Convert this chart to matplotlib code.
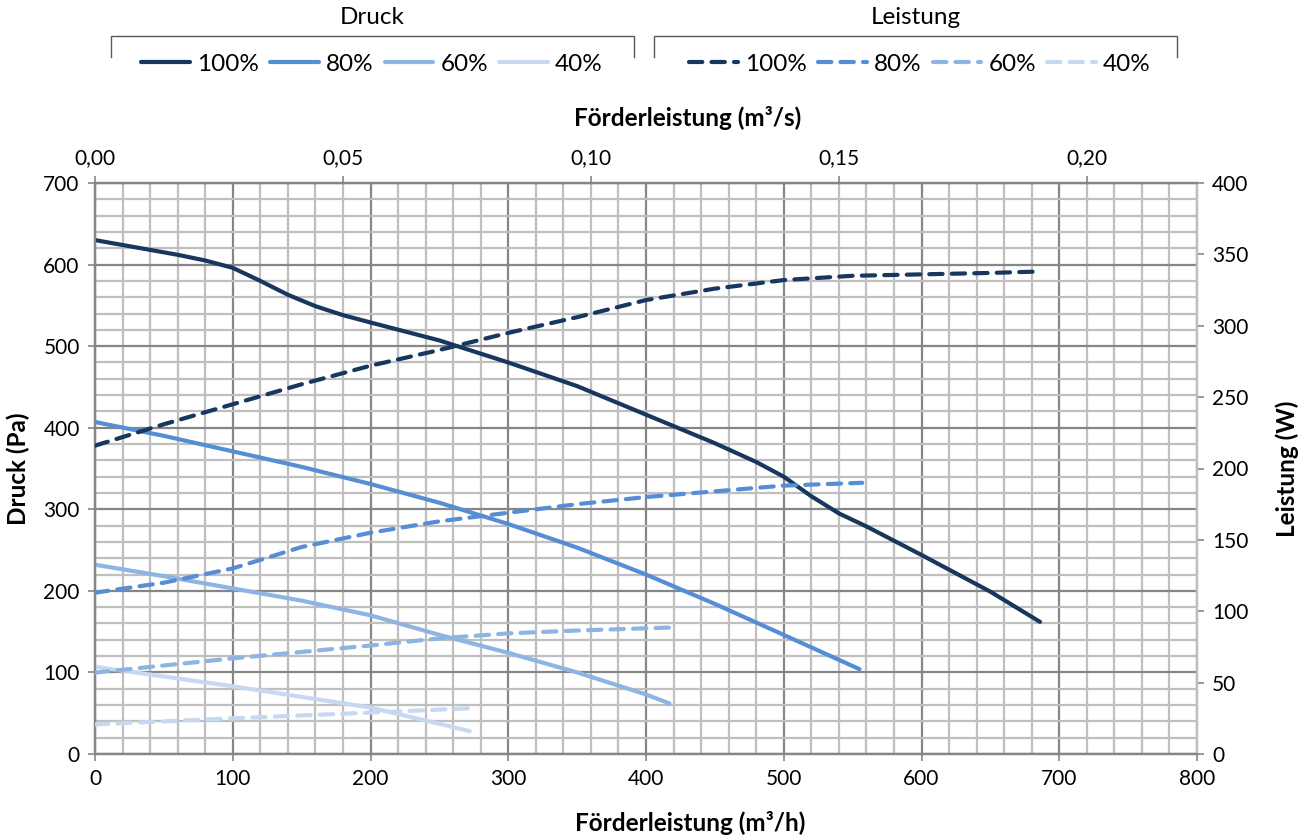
import matplotlib
matplotlib.use("Agg")
import matplotlib.pyplot as plt
from matplotlib.lines import Line2D
from matplotlib.ticker import MultipleLocator, FuncFormatter

plt.rcParams['font.family'] = ['Lato', 'DejaVu Sans']

# ---- data (x in m³/h) ----
levels = ["100%", "80%", "60%", "40%"]
colors = ["#17375E", "#558ED5", "#8EB4E3", "#C6D9F1"]

p100_x = [0, 20, 40, 60, 80, 100, 120, 140, 160, 180, 200, 250, 300, 350, 400, 450, 480, 500, 520, 540, 560, 600, 650, 686]
p100_y = [630, 624, 618, 612, 605, 596, 580, 563, 549, 538, 529, 507, 480, 451, 416, 381, 358, 340, 316, 295, 279, 244, 199, 162]
p80_x = [0, 50, 100, 150, 200, 250, 300, 350, 400, 450, 500, 555]
p80_y = [407, 390, 371, 352, 331, 308, 282, 253, 220, 184, 146, 104]
p60_x = [0, 50, 100, 150, 200, 250, 300, 350, 400, 417]
p60_y = [232, 218, 203, 188, 170, 146, 124, 100, 73, 62]
p40_x = [0, 50, 100, 150, 200, 250, 272]
p40_y = [107, 95, 83, 70, 57, 37, 28]

w100_x = [0, 50, 100, 150, 200, 250, 300, 350, 400, 450, 500, 550, 600, 650, 686]
w100_y = [216, 231, 245, 259, 272, 283, 295, 306, 318, 326, 332, 335, 336, 337, 338]
w80_x = [0, 50, 100, 150, 200, 250, 300, 350, 400, 450, 500, 557]
w80_y = [113, 120, 130, 145, 155, 163, 169, 175, 180, 184, 188, 190]
w60_x = [0, 100, 200, 250, 300, 350, 417]
w60_y = [57, 67, 76, 81, 84.5, 86.5, 88.6]
w40_x = [0, 100, 200, 272]
w40_y = [20.7, 25, 29, 32]

druck = [(p100_x, p100_y), (p80_x, p80_y), (p60_x, p60_y), (p40_x, p40_y)]
leistung = [(w100_x, w100_y), (w80_x, w80_y), (w60_x, w60_y), (w40_x, w40_y)]

dark = "#868686"
light = "#BFBFBF"
fs = 15
lfs = 17.5

fig = plt.figure(figsize=(13.04, 8.39), dpi=100)
ax = fig.add_axes([95/1304, 1-754/839, (1197-95)/1304, (754-183)/839])
ax2 = ax.twinx()

ax.set_xlim(0, 800)
ax.set_ylim(0, 700)
ax2.set_ylim(0, 400)

# grid
ax.xaxis.set_major_locator(MultipleLocator(100))
ax.xaxis.set_minor_locator(MultipleLocator(20))
ax.yaxis.set_major_locator(MultipleLocator(100))
ax.yaxis.set_minor_locator(MultipleLocator(20))
ax.grid(which='minor', color=light, lw=1.6, zorder=0)
ax.grid(which='major', color=dark, lw=1.6, zorder=0.1)
ax.set_axisbelow(True)

ax.tick_params(which='minor', length=0)
ax.tick_params(which='major', length=5, width=1.2, color=dark, labelsize=fs, pad=6)
ax2.yaxis.set_major_locator(MultipleLocator(50))
ax2.tick_params(which='major', length=5, width=1.2, color=dark, labelsize=fs, pad=6)

for a in (ax, ax2):
    for s in ('left', 'bottom', 'top'):
        a.spines[s].set_color(dark)
        a.spines[s].set_linewidth(1.6)
    a.spines['right'].set_color(light)
    a.spines['right'].set_linewidth(1.6)

lw = 3.0
hd, hl = [], []
for (x, y), c, lab in zip(druck, colors, levels):
    ln, = ax.plot(x, y, color=c, lw=lw, solid_capstyle='round', solid_joinstyle='round', zorder=3)
    hd.append(ln); hl.append(lab)
hw = []
for (x, y), c, lab in zip(leistung, colors, levels):
    ln, = ax2.plot(x, y, color=c, lw=lw, dashes=(3.2, 2.2), dash_capstyle='round', zorder=3)
    hw.append(ln)

# top axis in m³/s
sec = ax.secondary_xaxis('top', functions=(lambda v: v/3600.0, lambda v: v*3600.0))
sec.set_xticks([0.0, 0.05, 0.10, 0.15, 0.20])
sec.xaxis.set_major_formatter(FuncFormatter(lambda v, p: f"{v:.2f}".replace('.', ',')))
sec.tick_params(length=5, width=1.2, color=dark, labelsize=fs, pad=6)
sec.spines['top'].set_visible(False)

ax.set_xlabel("Förderleistung (m³/h)", fontsize=lfs, fontweight='bold')
ax.set_ylabel("Druck (Pa)", fontsize=lfs, fontweight='bold')
ax2.set_ylabel("Leistung (W)", fontsize=lfs, fontweight='bold', rotation=90)
fig.text(688/1304, 1-118/839, "Förderleistung (m³/s)", fontsize=lfs, fontweight='bold',
         ha='center', va='center')

ax.xaxis.set_label_coords(0.54, (754-823)/571)
ax.xaxis.label.set_va('center')
ax.yaxis.set_label_coords((18-95)/1102, 0.5)
ax.yaxis.label.set_va('center')
ax2.yaxis.set_label_coords((1287-95)/1102, 0.5)
ax2.yaxis.label.set_va('center')

# legends
for hs, cx in ((hd, 372), (hw, 920)):
    fig.legend(hs, hl, loc='center', bbox_to_anchor=(cx/1304, 1-64/839), ncol=4,
               frameon=False, fontsize=17.5, handlelength=2.0, handletextpad=0.3,
               columnspacing=0.45)

def bracket(x0, x1, title):
    yb = 1-36/839
    yt = 1-57/839
    fig.add_artist(Line2D([x0/1304, x0/1304, x1/1304, x1/1304], [yt, yb, yb, yt],
                          transform=fig.transFigure, color="#595959", lw=1.0))
    fig.text((x0+x1)/2/1304, 1-17/839, title, ha='center', va='center', fontsize=17.5)

bracket(111, 634, "Druck")
bracket(654, 1177, "Leistung")

fig.savefig("out.png", dpi=100)
